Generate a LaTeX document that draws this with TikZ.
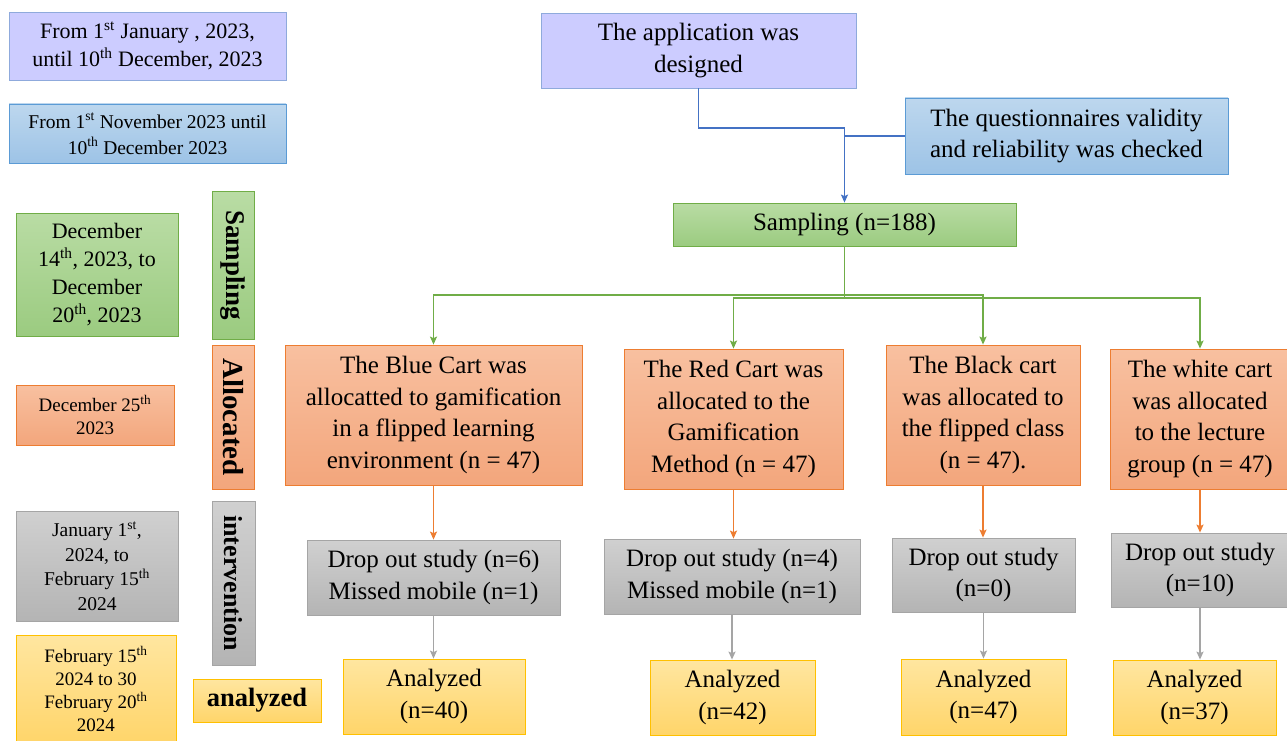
\documentclass[tikz,border=0pt]{standalone}
\usepackage{fontspec}
\setmainfont{Liberation Serif}
\usetikzlibrary{arrows.meta}
\definecolor{lavF}{HTML}{CCCCFF}
\definecolor{lavD}{HTML}{8FAADC}
\definecolor{bluT}{HTML}{BDD7EE}
\definecolor{bluB}{HTML}{9DC3E6}
\definecolor{bluD}{HTML}{5B9BD5}
\definecolor{grnT}{HTML}{B9DCA4}
\definecolor{grnB}{HTML}{9BCB80}
\definecolor{grnD}{HTML}{70AD47}
\definecolor{orgT}{HTML}{F8C0A0}
\definecolor{orgB}{HTML}{F3A67C}
\definecolor{orgD}{HTML}{ED7D31}
\definecolor{gryT}{HTML}{D0D0D0}
\definecolor{gryB}{HTML}{B4B4B4}
\definecolor{gryD}{HTML}{A5A5A5}
\definecolor{ylwT}{HTML}{FFE6A0}
\definecolor{ylwB}{HTML}{FFD56A}
\definecolor{ylwD}{HTML}{FFC000}
\definecolor{arB}{HTML}{4472C4}
\tikzset{
  x=1pt, y=-1pt,
  box/.style={draw, line width=0.8pt, align=center, inner sep=0pt, text=black},
  lav/.style={box, fill=lavF, draw=lavD},
  blu/.style={box, top color=bluT, bottom color=bluB, draw=bluD},
  grn/.style={box, top color=grnT, bottom color=grnB, draw=grnD},
  org/.style={box, top color=orgT, bottom color=orgB, draw=orgD},
  gry/.style={box, top color=gryT, bottom color=gryB, draw=gryD},
  ylw/.style={box, top color=ylwT, bottom color=ylwB, draw=ylwD},
  big/.style={font=\fontsize{25}{31.5}\selectfont},
  lbl/.style={font=\fontsize{#1}{28}\selectfont\bfseries},
  con/.style={line width=1.4pt, -{Stealth[length=8pt,width=7pt,inset=1.5pt]}},
  plain/.style={line width=1.4pt},
}
\newcommand{\sps}[1]{\textsuperscript{#1}}
\begin{document}
\begin{tikzpicture}
\useasboundingbox (0,0) rectangle (1287,741);
% left column
\node[lav, minimum width=277pt, minimum height=68pt, font=\fontsize{22}{28}\selectfont] (d1) at (147.5,46) {From 1\sps{st} January , 2023,\\until 10\sps{th} December, 2023};
\node[blu, minimum width=277pt, minimum height=59pt, font=\fontsize{19.5}{26}\selectfont] (d2) at (147.5,133.5) {From 1\sps{st} November 2023 until\\10\sps{th} December 2023};
\node[grn, minimum width=162pt, minimum height=123pt, font=\fontsize{22}{28}\selectfont] (d3) at (97,274.5) {December\\14\sps{th}, 2023, to\\December\\20\sps{th}, 2023};
\node[org, minimum width=158pt, minimum height=60pt, font=\fontsize{19}{23}\selectfont] (d4) at (95,415) {December 25\sps{th}\\2023};
\node[gry, minimum width=162pt, minimum height=110pt, font=\fontsize{19.5}{24.5}\selectfont] (d5) at (97,566) {January 1\sps{st},\\2024, to\\February 15\sps{th}\\2024};
\node[ylw, minimum width=160pt, minimum height=108pt, font=\fontsize{19}{23}\selectfont] (d6) at (96,689) {February 15\sps{th}\\2024 to 30\\February 20\sps{th}\\2024};
% vertical labels
\node[grn, minimum width=148pt, minimum height=42pt, rotate=-90, lbl=27] (lsamp) at (233,265) {Sampling};
\node[org, minimum width=144pt, minimum height=42pt, rotate=-90, lbl=29] (lalloc) at (233,417) {Allocated};
\node[gry, minimum width=164pt, minimum height=43pt, rotate=-90, lbl=26] (linter) at (233.5,583) {intervention};
\node[ylw, minimum width=128pt, minimum height=43pt, lbl=26.5] (lanal) at (257,700.5) {analyzed};
% top
\node[lav, big, minimum width=315pt, minimum height=75pt] (app) at (698.5,50.5) {The application was\\designed};
\node[blu, big, minimum width=323pt, minimum height=76pt] (quest) at (1066.5,136) {The questionnaires validity\\and reliability was checked};
\node[grn, big, minimum width=343pt, minimum height=43pt] (samp) at (844.5,224.5) {Sampling (n=188)};
% carts
\node[org, big, minimum width=297pt, minimum height=140pt] (c1) at (433.5,415) {The Blue Cart was\\allocatted to gamification\\in a flipped learning\\environment (n = 47)};
\node[org, big, minimum width=219pt, minimum height=140pt] (c2) at (733.5,419) {The Red Cart was\\allocated to the\\Gamification\\Method (n = 47)};
\node[org, big, minimum width=194pt, minimum height=140pt] (c3) at (983,415) {The Black cart\\was allocated to\\the flipped class\\(n = 47).};
\node[org, big, minimum width=180pt, minimum height=140pt] (c4) at (1200,419) {The white cart\\was allocated\\to the lecture\\group (n = 47)};
% drop out
\node[gry, big, minimum width=253pt, minimum height=75pt] (dr1) at (433.5,577.5) {Drop out study (n=6)\\Missed mobile (n=1)};
\node[gry, big, minimum width=256pt, minimum height=75pt] (dr2) at (732,576.5) {Drop out study (n=4)\\Missed mobile (n=1)};
\node[gry, big, minimum width=183pt, minimum height=74pt] (dr3) at (983.5,575) {Drop out study\\(n=0)};
\node[gry, big, minimum width=178pt, minimum height=74pt] (dr4) at (1200,570) {Drop out study\\(n=10)};
% analyzed
\node[ylw, big, minimum width=182pt, minimum height=75pt] (a1) at (434,696.5) {Analyzed\\(n=40)};
\node[ylw, big, minimum width=165pt, minimum height=75pt] (a2) at (732.5,697.5) {Analyzed\\(n=42)};
\node[ylw, big, minimum width=165pt, minimum height=76pt] (a3) at (983.5,697) {Analyzed\\(n=47)};
\node[ylw, big, minimum width=163pt, minimum height=75pt] (a4) at (1194.5,697.5) {Analyzed\\(n=37)};
% connectors top
\coordinate (j1) at (844.5,128);
\draw[con, draw=arB] (app.south) |- (j1) -- (samp.north);
\draw[plain, draw=arB] (quest.west) -- (quest.west -| samp.north);
% tree
\coordinate (t1) at (844.5,295);
\coordinate (t2) at (844.5,298);
\draw[plain, draw=grnD] (samp.south) -- (t2);
\draw[con, draw=grnD] (t1) -| (c1.north);
\draw[con, draw=grnD] (t1) -| (c3.north);
\draw[con, draw=grnD] (t2) -| (c2.north);
\draw[con, draw=grnD] (t2) -| (c4.north);
% orange
\draw[con, draw=orgD] (c1.south) -- (c1.south |- dr1.north);
\draw[con, draw=orgD] (c2.south) -- (c2.south |- dr2.north);
\draw[con, draw=orgD] (c3.south) -- (c3.south |- dr3.north);
\draw[con, draw=orgD] (c4.south) -- (c4.south |- dr4.north);
% gray
\draw[con, draw=gryD] (dr1.south) -- (dr1.south |- a1.north);
\draw[con, draw=gryD] (dr2.south) -- (dr2.south |- a2.north);
\draw[con, draw=gryD] (dr3.south) -- (dr3.south |- a3.north);
\draw[con, draw=gryD] (dr4.south) -- (dr4.south |- a4.north);
\end{tikzpicture}
\end{document}
